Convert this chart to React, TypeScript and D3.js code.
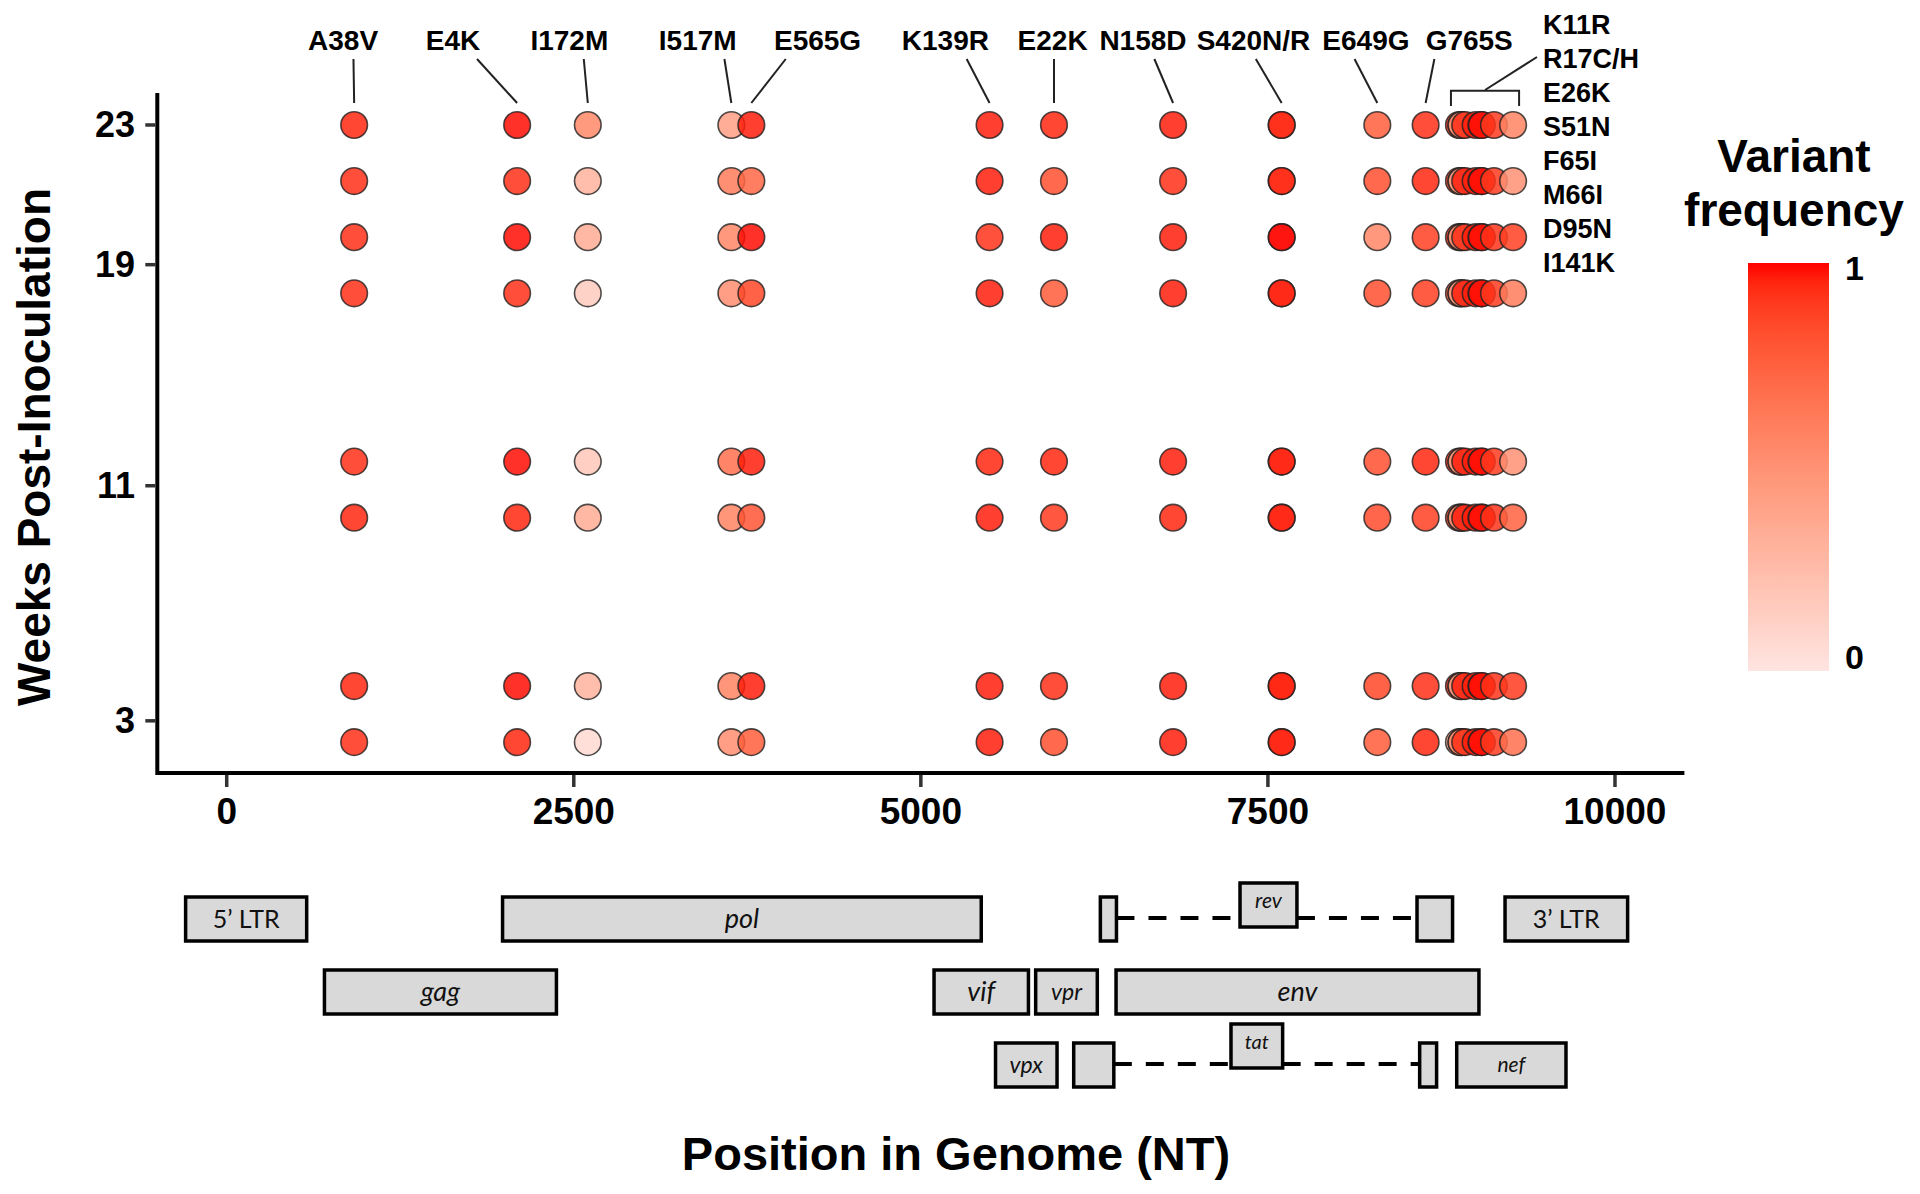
import React from 'react';
import * as d3 from 'd3';

// ---------------- DATA ----------------
// Variant names and genome positions (nt)
const variantNames = [
  'A38V', 'E4K', 'I172M', 'I517M', 'E565G', 'K139R', 'E22K', 'N158D', 'S420R', 'S420N', 'E649G', 'G765S',
  'K11R', 'R17C', 'R17H', 'E26K', 'S51N', 'F65I', 'M66I', 'D95N', 'I141K',
];
const variantPositions = [
  918, 2092, 2601, 3635, 3779, 5495, 5959, 6817, 7599, 7599, 8288, 8636,
  8876, 8894, 8894, 8921, 8996, 9038, 9041, 9128, 9266,
];
// Variant frequency per variant, one value per sample (top row -> bottom row)
const frequencies: number[][] = [
  [0.95, 0.93, 0.93, 0.93, 0.93, 0.95, 0.95, 0.93], // A38V
  [0.99, 0.93, 0.99, 0.93, 0.99, 0.95, 0.99, 0.95], // E4K
  [0.55, 0.3, 0.35, 0.16, 0.18, 0.35, 0.3, 0.07],   // I172M
  [0.42, 0.62, 0.56, 0.52, 0.68, 0.58, 0.58, 0.52], // I517M
  [0.97, 0.72, 0.99, 0.86, 0.97, 0.8, 0.97, 0.76],  // E565G
  [0.97, 0.97, 0.92, 0.97, 0.95, 0.97, 0.97, 0.97], // K139R
  [0.95, 0.82, 0.97, 0.78, 0.95, 0.9, 0.93, 0.82],  // E22K
  [0.97, 0.93, 0.97, 0.97, 0.97, 0.95, 0.97, 0.97], // N158D
  [0.55, 0.55, 0.65, 0.55, 0.55, 0.55, 0.6, 0.55],  // S420R
  [0.97, 0.97, 1.0, 0.98, 0.98, 0.98, 0.98, 0.98],  // S420N
  [0.76, 0.82, 0.56, 0.82, 0.82, 0.84, 0.86, 0.78], // E649G
  [0.93, 0.95, 0.88, 0.88, 0.95, 0.88, 0.93, 0.95], // G765S
  [0.92, 0.88, 0.92, 0.82, 0.92, 0.88, 0.92, 0.35], // K11R
  [0.55, 0.62, 0.55, 0.62, 0.58, 0.55, 0.62, 0.45], // R17C
  [0.5, 0.42, 0.5, 0.42, 0.45, 0.5, 0.42, 0.55],    // R17H
  [0.93, 0.97, 0.93, 0.97, 0.97, 0.97, 0.97, 0.93], // E26K
  [0.97, 0.97, 0.97, 0.97, 0.97, 0.97, 0.97, 0.97], // S51N
  [0.93, 0.93, 0.93, 0.93, 0.93, 0.93, 0.93, 0.93], // F65I
  [0.99, 0.99, 0.99, 0.99, 0.99, 0.99, 0.99, 0.99], // M66I
  [0.9, 0.9, 0.92, 0.9, 0.9, 0.92, 0.92, 0.9],      // D95N
  [0.58, 0.5, 0.88, 0.62, 0.5, 0.74, 0.9, 0.68],    // I141K
];
// Vertical slot of each sequenced sample (top -> bottom)
const sampleSlots = [0, 1, 2, 3, 6, 7, 10, 11];
const yTickLabels = ['23', '19', '11', '3'];
const yTickSlots = [0, 2.49, 6.43, 10.62];
const xTickValues = [0, 2500, 5000, 7500, 10000];

// Annotation labels above the plot
const topLabels = ['A38V', 'E4K', 'I172M', 'I517M', 'E565G', 'K139R', 'E22K', 'N158D', 'S420N/R', 'E649G', 'G765S'];
const topLabelNT = [838, 1630, 2468, 3393, 4256, 5177, 5949, 6600, 7396, 8206, 8950];
const leaderFromNT = [913, 1803, 2572, 3585, 4027, 5330, 5959, 6682, 7413, 8124, 8699];
const leaderToNT = [918, 2092, 2601, 3635, 3779, 5495, 5959, 6817, 7599, 8288, 8636];
const nefLabels = ['K11R', 'R17C/H', 'E26K', 'S51N', 'F65I', 'M66I', 'D95N', 'I141K'];

// Genome map
const geneNames = ['5’ LTR', 'pol', '3’ LTR', 'gag', 'vif', 'vpr', 'env', 'vpx', 'nef'];
const geneStarts = [-296, 1987, 9208, 704, 5095, 5827, 6406, 5538, 8860];
const geneEnds = [576, 5435, 10091, 2375, 5775, 6271, 9020, 5981, 9647];
const geneRows = [0, 0, 0, 1, 1, 1, 1, 2, 2];
const splicedNames = ['rev', 'tat'];
const splicedRows = [0, 2];
const exon1Starts = [6293, 6101];
const exon1Ends = [6409, 6390];
const exon2Starts = [8574, 8593];
const exon2Ends = [8830, 8715];
const labelBoxStarts = [7299, 7234];
const labelBoxEnds = [7709, 7606];

// ---------------- STYLE ----------------
const FONT = '"Liberation Sans", Arial, Helvetica, sans-serif';
const MAPFONT = 'Lato, "Open Sans", sans-serif';
const geneFontSize: Record<string, number> = {
  '5’ LTR': 25, '3’ LTR': 25, pol: 27, gag: 27, env: 27, vif: 27, vpr: 23, vpx: 23, nef: 21, rev: 21, tat: 20,
};
const geneItalic = (n: string) => !n.includes('LTR');

export default function App() {
  const W = 1920, H = 1194;
  const x = d3.scaleLinear().domain([-500, 10500]).range([157.3, 1684.4]);
  const y = d3.scaleLinear().domain([-0.57, 11.55]).range([93, 773]);
  const color = d3.scaleLinear<string>().domain([0, 1]).range(['#ffe4e1', '#ff0000']).interpolate(d3.interpolateLab);
  const legendY = d3.scaleLinear().domain([0, 1]).range([657, 268]);
  const mapRowY = d3.scaleLinear().domain([0, 2]).range([897, 1043]);
  const boxH = 44;
  const r = 13.3;

  const [x0, x1] = x.range();
  const [yTop, yBottom] = y.range();

  const gradStops = d3.range(0, 1.0001, 0.05);

  // nef bracket extents
  const nefIdx = variantNames.map((_, i) => i).filter((i) => i >= 12);
  const bL = x(d3.min(nefIdx, (i) => variantPositions[i])!) - 8;
  const bR = x(d3.max(nefIdx, (i) => variantPositions[i])!) + 6;
  const bMid = (bL + bR) / 2;

  return (
    <svg width={W} height={H} style={{ position: 'absolute', left: 0, top: 0, background: '#fff' }}>
      <defs>
        <linearGradient id="legGrad" x1="0" y1="1" x2="0" y2="0">
          {gradStops.map((t) => (
            <stop key={t} offset={t} stopColor={color(t)} />
          ))}
        </linearGradient>
      </defs>

      {/* axes */}
      <line x1={x0} x2={x1} y1={yBottom} y2={yBottom} stroke="#000" strokeWidth={4} />
      <line x1={x0} x2={x0} y1={yTop} y2={yBottom + 2} stroke="#000" strokeWidth={4} />
      {xTickValues.map((v) => (
        <g key={v}>
          <line x1={x(v)} x2={x(v)} y1={yBottom + 2} y2={yBottom + 14} stroke="#333" strokeWidth={3.5} />
          <text x={x(v)} y={824} textAnchor="middle" fontFamily={FONT} fontWeight="bold" fontSize={37} fill="#000">
            {v}
          </text>
        </g>
      ))}
      {yTickLabels.map((lab, i) => (
        <g key={lab}>
          <line x1={x0 - 12} x2={x0 - 2} y1={y(yTickSlots[i])} y2={y(yTickSlots[i])} stroke="#333" strokeWidth={3.5} />
          <text x={135} y={y(yTickSlots[i]) + 12.5} textAnchor="end" fontFamily={FONT} fontWeight="bold" fontSize={36} fill="#000">
            {lab}
          </text>
        </g>
      ))}
      <text
        transform={`translate(50,447) rotate(-90)`}
        textAnchor="middle"
        fontFamily={FONT}
        fontWeight="bold"
        fontSize={46}
        fill="#000"
      >
        Weeks Post-Inoculation
      </text>
      <text x={956} y={1170} textAnchor="middle" fontFamily={FONT} fontWeight="bold" fontSize={47} fill="#000">
        Position in Genome (NT)
      </text>

      {/* points */}
      {variantNames.map((name, vi) => (
        <g key={name}>
          {sampleSlots.map((s, si) => (
            <circle
              key={si}
              cx={x(variantPositions[vi])}
              cy={y(s)}
              r={r}
              fill={color(frequencies[vi][si])}
              fillOpacity={0.85}
              stroke="#222"
              strokeOpacity={0.8}
              strokeWidth={1.6}
            />
          ))}
        </g>
      ))}

      {/* top labels */}
      {topLabels.map((lab, i) => (
        <g key={lab}>
          <text x={x(topLabelNT[i])} y={50} textAnchor="middle" fontFamily={FONT} fontWeight="bold" fontSize={28} fill="#000">
            {lab}
          </text>
          <line x1={x(leaderFromNT[i])} y1={59} x2={x(leaderToNT[i])} y2={103} stroke="#222" strokeWidth={2} />
        </g>
      ))}
      {/* nef bracket */}
      <path d={`M${bL},106 V90.7 H${bR} V106`} fill="none" stroke="#222" strokeWidth={2} />
      <line x1={bMid} y1={90} x2={1537} y2={57} stroke="#222" strokeWidth={2} />
      {nefLabels.map((lab, i) => (
        <text key={lab} x={1543} y={33.5 + i * 34.1} fontFamily={FONT} fontWeight="bold" fontSize={27} fill="#000">
          {lab}
        </text>
      ))}

      {/* legend */}
      <text x={1794} y={172} textAnchor="middle" fontFamily={FONT} fontWeight="bold" fontSize={46} fill="#000">
        Variant
      </text>
      <text x={1794} y={226} textAnchor="middle" fontFamily={FONT} fontWeight="bold" fontSize={46} fill="#000">
        frequency
      </text>
      <rect x={1748} y={263} width={81} height={408} fill="url(#legGrad)" />
      {[1, 0].map((v) => (
        <text key={v} x={1845} y={legendY(v) + 12} fontFamily={FONT} fontWeight="bold" fontSize={34} fill="#000">
          {v}
        </text>
      ))}

      {/* genome map: splice connectors */}
      {splicedNames.map((n, i) => {
        const cy = mapRowY(splicedRows[i]) + boxH / 2 - 1;
        return (
          <g key={n + '-dash'}>
            <line x1={x(exon1Ends[i])} x2={x(labelBoxStarts[i])} y1={cy} y2={cy} stroke="#000" strokeWidth={4} strokeDasharray="18 14" />
            <line x1={x(labelBoxEnds[i])} x2={x(exon2Starts[i])} y1={cy} y2={cy} stroke="#000" strokeWidth={4} strokeDasharray="18 14" />
          </g>
        );
      })}
      {/* genes */}
      {geneNames.map((n, i) => {
        const top = mapRowY(geneRows[i]);
        const xa = x(geneStarts[i]);
        const xb = x(geneEnds[i]);
        return (
          <g key={n}>
            <rect x={xa} y={top} width={xb - xa} height={boxH} fill="#d9d9d9" stroke="#000" strokeWidth={3.5} />
            <text
              x={(xa + xb) / 2}
              y={top + boxH / 2 + geneFontSize[n] * 0.35}
              textAnchor="middle"
              fontFamily={MAPFONT}
              fontStyle={geneItalic(n) ? 'italic' : 'normal'}
              fontSize={geneFontSize[n]}
              fill="#111"
            >
              {n}
            </text>
          </g>
        );
      })}
      {splicedNames.map((n, i) => {
        const top = mapRowY(splicedRows[i]);
        const lift = i === 0 ? 14 : 19;
        const lx0 = x(labelBoxStarts[i]);
        const lx1 = x(labelBoxEnds[i]);
        return (
          <g key={n}>
            <rect x={x(exon1Starts[i])} y={top} width={x(exon1Ends[i]) - x(exon1Starts[i])} height={boxH} fill="#d9d9d9" stroke="#000" strokeWidth={3.5} />
            <rect x={x(exon2Starts[i])} y={top} width={x(exon2Ends[i]) - x(exon2Starts[i])} height={boxH} fill="#d9d9d9" stroke="#000" strokeWidth={3.5} />
            <rect x={lx0} y={top - lift} width={lx1 - lx0} height={boxH} fill="#d9d9d9" stroke="#000" strokeWidth={3.5} />
            <text
              x={(lx0 + lx1) / 2}
              y={top - lift + boxH / 2 + 3}
              textAnchor="middle"
              fontFamily={MAPFONT}
              fontStyle="italic"
              fontSize={geneFontSize[n]}
              fill="#111"
            >
              {n}
            </text>
          </g>
        );
      })}
    </svg>
  );
}
